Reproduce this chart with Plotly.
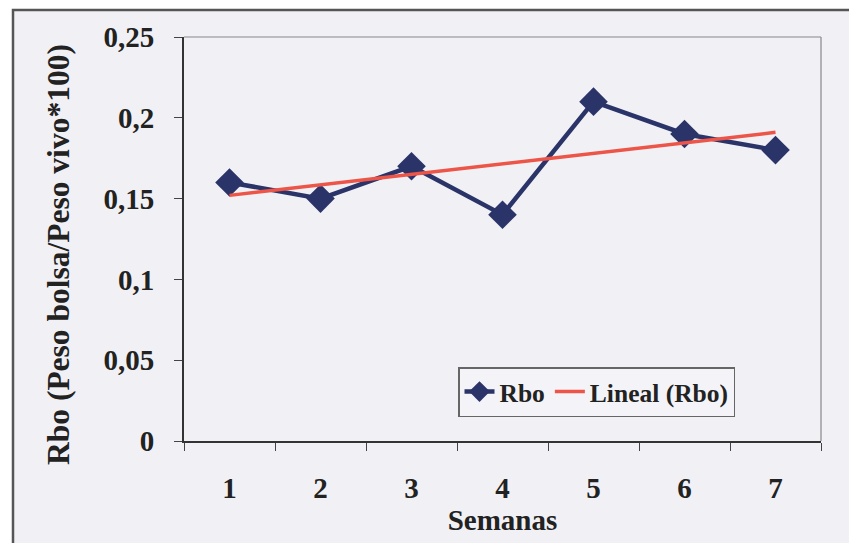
import plotly.graph_objects as go

semanas = ["1", "2", "3", "4", "5", "6", "7"]
rbo = [0.16, 0.15, 0.17, 0.14, 0.21, 0.19, 0.18]
trend_x = ["1", "7"]
trend_y = [0.152, 0.191]
y_ticks = [0, 0.05, 0.1, 0.15, 0.2, 0.25]

navy = "#2a3468"
red = "#ec5548"
font_fam = "Liberation Serif"
txt = "#222222"

fig = go.Figure()
fig.add_trace(go.Scatter(
    x=semanas, y=rbo, mode="lines+markers", name="<b>Rbo</b>",
    line=dict(color=navy, width=4.5),
    marker=dict(symbol="diamond", size=22, color=navy),
))
fig.add_trace(go.Scatter(
    x=trend_x, y=trend_y, mode="lines", name="<b>Lineal (Rbo)</b>",
    line=dict(color=red, width=3.5),
))

L, R, T, B = 184, 28, 37, 102
W, H = 849, 543
pw, ph = W - L - R, H - T - B

def px(xp):
    return (xp - L) / pw

def py(yp):
    return (H - B - yp) / ph

fig.update_layout(
    width=W, height=H,
    margin=dict(l=L, r=R, t=T, b=B),
    paper_bgcolor="white",
    plot_bgcolor="#f4f4f8",
    separators=",.",
    font=dict(family=font_fam, size=29, color=txt),
    showlegend=True,
    legend=dict(
        orientation="h", x=px(458), y=py(367), xanchor="left", yanchor="top",
        bgcolor="#f4f4f8", bordercolor="#666666", borderwidth=1.5,
        font=dict(family=font_fam, size=25.5, color=txt),
        itemwidth=30, tracegroupgap=0,
    ),
    xaxis=dict(
        type="category", categoryorder="array", categoryarray=semanas,
        range=[-0.5, 6.5],
        tickson="boundaries", ticks="outside", ticklen=8, tickcolor="#444444",
        showline=True, linecolor="#333333", linewidth=2,
        showgrid=False, zeroline=False,
        ticklabelstandoff=20,
        tickfont=dict(family=font_fam, size=29, color=txt),
        title=dict(text="<b>Semanas</b>", standoff=0,
                   font=dict(family=font_fam, size=29, color=txt)),
    ),
    yaxis=dict(
        range=[0, 0.25], tickvals=y_ticks,
        ticks="outside", ticklen=8, tickcolor="#444444",
        showline=True, linecolor="#333333", linewidth=2,
        showgrid=False, zeroline=False,
        ticklabelstandoff=14,
        tickfont=dict(family=font_fam, size=29, color=txt),
    ),
)
fig.update_xaxes(ticktext=["<b>%s</b>" % s for s in semanas], tickvals=semanas)
fig.update_yaxes(ticktext=["<b>%s</b>" % ("0" if v == 0 else ("%g" % v).replace(".", ",")) for v in y_ticks])

# y-axis title as rotated annotation
fig.add_annotation(
    text="<b>Rbo (Peso bolsa/Peso vivo*100)</b>", textangle=-90,
    xref="paper", yref="paper", x=px(58), y=py(255),
    xanchor="center", yanchor="middle", showarrow=False,
    font=dict(family=font_fam, size=31.5, color=txt),
)

# outer chart border (left and top) and background
fig.add_shape(type="rect", xref="paper", yref="paper",
              x0=px(13), x1=px(W + 10), y0=py(H + 10), y1=py(10),
              fillcolor="#f1f1f5", line=dict(color="#555555", width=2.5), layer="below")
# plot area box (top and right thin gray)
fig.add_shape(type="line", xref="paper", yref="paper", x0=0, x1=1, y0=1, y1=1,
              line=dict(color="#888888", width=1.2))
fig.add_shape(type="line", xref="paper", yref="paper", x0=1, x1=1, y0=0, y1=1,
              line=dict(color="#888888", width=1.2))

fig.write_html("out.html")
